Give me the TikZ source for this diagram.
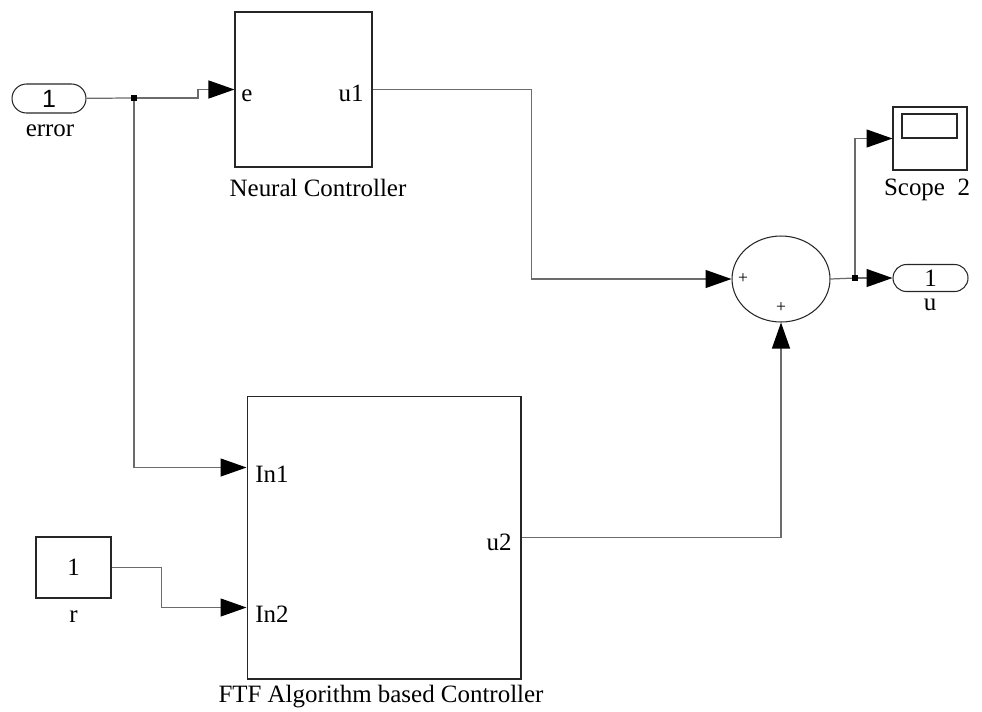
\documentclass[tikz,border=0pt]{standalone}
\usepackage{fontspec}
\setmainfont{Liberation Serif}
\newfontfamily\helvfont{Liberation Sans}
\usepackage{tikz}
\usetikzlibrary{arrows.meta,shapes.geometric,shapes.misc}
\definecolor{wire gray}{rgb}{0.42, 0.42, 0.42}
\definecolor{block black}{rgb}{0.15, 0.15, 0.15}

\begin{document}
\begin{tikzpicture}[x=0.02cm, y=-0.02cm,
		font=\fontsize{14.2}{17}\selectfont,
		block/.style={draw=block black, line width=0.6pt, inner sep=0pt},
		portpill/.style={block, rounded rectangle, inner sep=0pt},
		wire/.style={draw=wire gray, line width=0.7pt},
		sig/.style={wire, -{Triangle[length=0.52cm, width=0.36cm, color=black]}},
		branch/.style={fill=black, inner sep=0pt, minimum size=0.11cm},
		sign/.style={font=\fontsize{10}{12}\selectfont, inner sep=0pt}]
			\useasboundingbox (0,0) rectangle (982,711);
			% sources
			\begin{scope}
				\node[portpill, minimum width=1.48cm, minimum height=0.58cm] (error) at (49,98.5) {\helvfont 1};
				\node (error label) at (50,131) {error};
				\node[block, minimum width=1.5cm, minimum height=1.22cm] (r) at (73.5,567.5) {1};
				\node (r label) at (73.5,617) {r};
			\end{scope}
			% controllers
			\begin{scope}
				\node[block, minimum width=2.74cm, minimum height=3.1cm] (nc) at (303.5,89.5) {};
				\node[anchor=base west, inner sep=0pt] (nc e) at (241,101) {e};
				\node[anchor=base east, inner sep=0pt] (nc u1) at (364,101) {u1};
				\node (nc label) at (318,188) {Neural Controller};
				\node[block, minimum width=5.48cm, minimum height=5.66cm] (ftf) at (384,537.5) {};
				\path (ftf.north west) ++(0,72) coordinate (in1) ++(0,140) coordinate (in2);
				\node[anchor=base west, inner sep=0pt] (ftf in1) at (255,482) {In1};
				\node[anchor=base west, inner sep=0pt] (ftf in2) at (255,622) {In2};
				\node[anchor=base east, inner sep=0pt] (ftf u2) at (512,550) {u2};
				\node (ftf label) at (381,697) {FTF Algorithm based Controller};
			\end{scope}
			% sum and sinks
			\begin{scope}
				\node[block, ellipse, minimum width=1.96cm, minimum height=1.72cm] (sum) at (781,279) {};
				\node[sign] (sum p1) at (743,279) {+};
				\node[sign] (sum p2) at (781,308) {+};
				\node[block, minimum width=1.48cm, minimum height=1.26cm] (scope) at (930,138.5) {};
				\node[block, minimum width=1.1cm, minimum height=0.48cm] (scope screen) at (929.5,126) {};
				\node (scope label) at (927,190) {Scope~~2};
				\node[portpill, minimum width=1.5cm, minimum height=0.54cm] (u) at (930.5,278) {1};
				\node (u label) at (930,305) {u};
			\end{scope}
			% branch points
			\node[branch] (br1) at (134,98) {};
			\node[branch] (br2) at (855,278) {};
			% wires
			\draw[wire] (error) -- (br1);
			\draw[sig] (br1) -- (198,98) |- (nc.west);
			\draw[sig] (br1) |- (in1);
			\draw[sig] (r.east) -- +(50,0) |- (in2);
			\draw[sig] (nc.east) -| ([xshift=-4cm]sum.west) -- (sum.west);
			\draw[sig] (ftf.east) -| (sum.south);
			\draw[wire] (sum.east) -- (br2);
			\draw[sig] (br2) -- (u.west);
			\draw[sig] (br2) |- (scope.west);
		\end{tikzpicture}
\end{document}
